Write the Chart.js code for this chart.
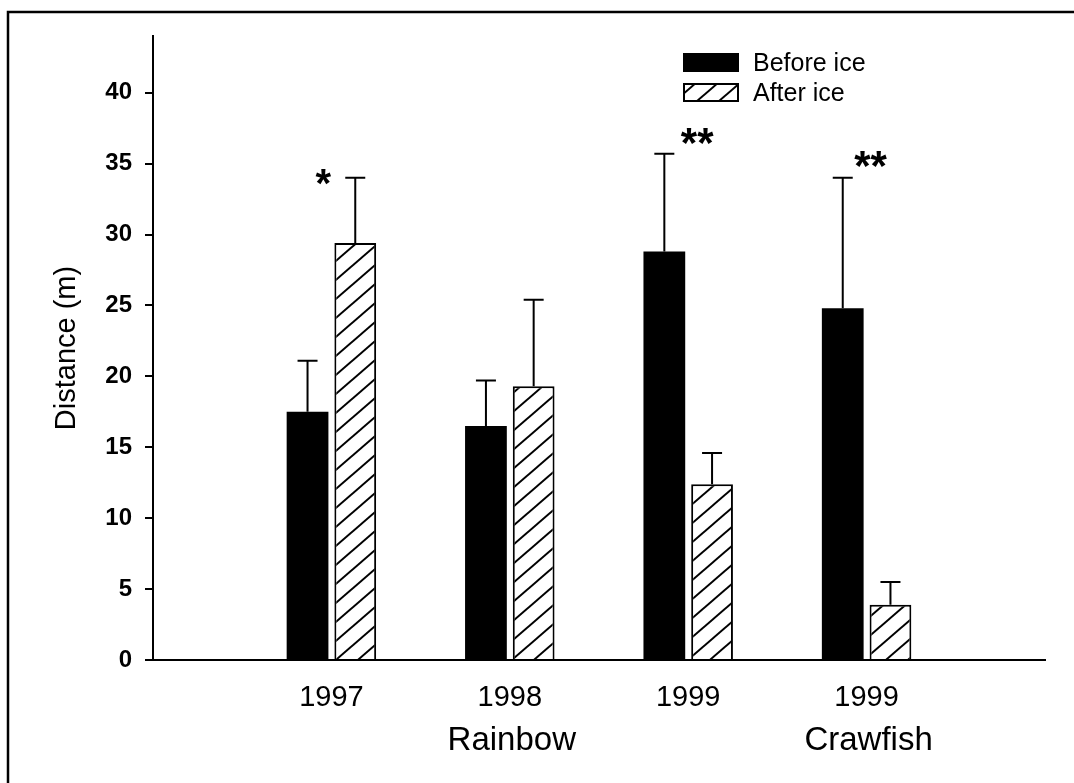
<!DOCTYPE html>
<html>
<head>
<meta charset="utf-8">
<script src="https://cdn.jsdelivr.net/npm/chart.js@4/dist/chart.umd.min.js"></script>
<style>
  body { margin: 0; background: #fff; }
</style>
</head>
<body>
<canvas id="myChart" width="1074" height="783"></canvas>
<script>
// values
var categories = ["", "1997", "1998", "1999", "1999", ""];
var beforeIce = [null, 17.5, 16.5, 28.8, 24.8, null];
var beforeErr = [null, 3.6, 3.2, 6.9, 9.2, null];
var afterIce = [null, 29.4, 19.3, 12.4, 3.9, null];
var afterErr = [null, 4.6, 6.1, 2.2, 1.6, null];
var groupLabels = ["Rainbow", "Crawfish"];
var groupIndex = [2, 4];
var starText = ["", "*", "", "**", "**", ""];

var FONT = "'Liberation Sans', Arial, sans-serif";

// diagonal hatch for the "after ice" bars
function makeHatch() {
    var w = 22, h = 19;
    var c = document.createElement("canvas");
    c.width = w;
    c.height = h;
    var g = c.getContext("2d");
    g.fillStyle = "#fff";
    g.fillRect(0, 0, w, h);
    g.strokeStyle = "#000";
    g.lineWidth = 2;
    for (var k = -1; k <= 1; k++) {
        g.beginPath();
        g.moveTo(k * w - w, 2 * h);
        g.lineTo(k * w + 2 * w, -h);
        g.stroke();
    }
    return g.createPattern(c, "repeat");
}

var ctx = document.getElementById("myChart").getContext("2d");
var hatch = makeHatch();

// frame, error bars, stars, group names, legend
var extras = {
    id: "extras",
    beforeDraw: function (chart) {
        var c = chart.ctx;
        c.save();
        c.fillStyle = "#fff";
        c.fillRect(0, 0, chart.width, chart.height);
        c.strokeStyle = "#000";
        c.lineWidth = 2.5;
        c.beginPath();
        c.moveTo(8, chart.height);
        c.lineTo(8, 12);
        c.lineTo(chart.width, 12);
        c.stroke();
        c.restore();
    },
    afterDatasetsDraw: function (chart) {
        var c = chart.ctx;
        var y = chart.scales.y;
        var errs = [beforeErr, afterErr];
        c.save();
        c.strokeStyle = "#000";
        c.lineWidth = 2;
        chart.data.datasets.forEach(function (ds, d) {
            var meta = chart.getDatasetMeta(d);
            ds.data.forEach(function (v, i) {
                if (v === null) return;
                var bar = meta.data[i];
                var top = y.getPixelForValue(v + errs[d][i]);
                c.beginPath();
                c.moveTo(bar.x, bar.y);
                c.lineTo(bar.x, top);
                c.moveTo(bar.x - 10, top);
                c.lineTo(bar.x + 10, top);
                c.stroke();
            });
        });
        c.restore();
    },
    afterDraw: function (chart) {
        var c = chart.ctx;
        var x = chart.scales.x;
        var y = chart.scales.y;
        var starPos = { 1: [-8, 34.3], 3: [9, 37.1], 4: [4, 35.5] };
        c.save();
        c.fillStyle = "#000";
        c.textAlign = "center";
        c.textBaseline = "alphabetic";

        starText.forEach(function (s, i) {
            if (!s) return;
            var p = starPos[i];
            c.font = "bold " + (s.length > 1 ? 42 : 40) + "px " + FONT;
            c.fillText(s, x.getPixelForValue(i) + p[0], y.getPixelForValue(p[1]) + 23);
        });

        c.font = "33px " + FONT;
        groupLabels.forEach(function (g, k) {
            c.fillText(g, x.getPixelForValue(groupIndex[k]) + 2, 750);
        });

        // legend
        c.fillRect(683, 53, 56, 19);
        c.fillStyle = hatch;
        c.fillRect(683, 83, 56, 19);
        c.strokeStyle = "#000";
        c.lineWidth = 2;
        c.strokeRect(684, 84, 54, 17);
        c.fillStyle = "#000";
        c.textAlign = "left";
        c.font = "25px " + FONT;
        c.fillText("Before ice", 753, 71);
        c.fillText("After ice", 753, 101);
        c.restore();
    }
};

window.myChart = new Chart(ctx, {
    type: "bar",
    data: {
        labels: categories,
        datasets: [
            {
                label: "Before ice",
                data: beforeIce,
                backgroundColor: "#000",
                borderColor: "#000",
                borderWidth: 0
            },
            {
                label: "After ice",
                data: afterIce,
                backgroundColor: hatch,
                borderColor: "#000",
                borderWidth: 2
            }
        ]
    },
    options: {
        responsive: false,
        animation: false,
        categoryPercentage: 0.535,
        barPercentage: 0.875,
        layout: { padding: { left: 0, top: 36, right: 29, bottom: 0 } },
        plugins: {
            legend: { display: false },
            tooltip: { enabled: false }
        },
        scales: {
            x: {
                type: "category",
                offset: false,
                grid: { display: false },
                border: { display: true, color: "#000", width: 2 },
                ticks: {
                    color: "#000",
                    font: { family: FONT, size: 29 },
                    padding: 13,
                    maxRotation: 0,
                    autoSkip: false
                },
                afterFit: function (s) { s.height = 123; }
            },
            y: {
                min: 0,
                max: 44,
                grid: {
                    drawOnChartArea: false,
                    drawTicks: true,
                    tickLength: 8,
                    color: "#000",
                    lineWidth: 2
                },
                border: { display: true, color: "#000", width: 2 },
                ticks: {
                    stepSize: 5,
                    color: "#000",
                    font: { family: FONT, size: 24, weight: "bold" },
                    padding: 13
                },
                afterBuildTicks: function (s) {
                    s.ticks = s.ticks.filter(function (t) { return t.value % 5 === 0; });
                },
                title: {
                    display: true,
                    text: "Distance (m)",
                    color: "#000",
                    font: { family: FONT, size: 29 },
                    padding: { top: 50, bottom: 0 }
                },
                afterFit: function (s) { s.width = 153; }
            }
        }
    },
    plugins: [extras]
});
</script>
</body>
</html>
